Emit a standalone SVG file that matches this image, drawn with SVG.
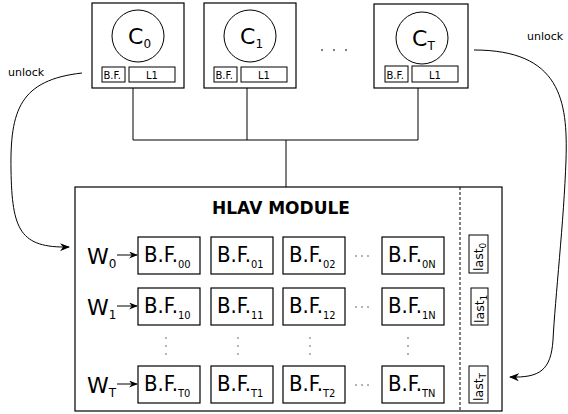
<svg xmlns="http://www.w3.org/2000/svg" width="568" height="414" viewBox="0 0 568 414">
  <style>
    text { font-family: "DejaVu Sans", "Liberation Sans", sans-serif; fill: #000; }
    .box { fill: #fff; stroke: #000; stroke-width: 1.2; }
    .thin { fill: #fff; stroke: #000; stroke-width: 1; }
    .wire { fill: none; stroke: #000; stroke-width: 1; }
    .curve { fill: none; stroke: #000; stroke-width: 1; marker-end: url(#head); }
    .core { font-size: 22px; }
    .coresub { font-size: 12px; }
    .small { font-size: 10px; }
    .bf { font-family: "DejaVu Sans Condensed", "DejaVu Sans", sans-serif; font-stretch: condensed; font-size: 22px; }
    .bfsub { font-size: 11px; }
    .w { font-size: 22px; }
    .wsub { font-size: 12px; }
    .last { font-size: 12.5px; }
    .lastsub { font-size: 9px; }
    .dot { fill: #555; }
  </style>
  <defs>
    <marker id="head" viewBox="0 0 10 8" refX="9" refY="4" markerWidth="10" markerHeight="8" markerUnits="userSpaceOnUse" orient="auto">
      <path d="M0,0 L10,4 L0,8 L3,4 Z" fill="#000"/>
    </marker>
    <marker id="wa" viewBox="0 0 10 8" refX="9" refY="4" markerWidth="9" markerHeight="7" markerUnits="userSpaceOnUse" orient="auto">
      <path d="M0,0 L10,4 L0,8 L3,4 Z" fill="#000"/>
    </marker>
  </defs>

  <!-- cores -->
  <g id="core0">
    <rect class="box" x="92" y="3" width="92" height="85"/>
    <circle class="wire" cx="138" cy="36" r="26"/>
    <text class="core" x="128" y="44">C<tspan class="coresub" dy="4">0</tspan></text>
    <rect class="thin" x="102" y="67" width="23" height="15"/>
    <text class="small" x="103.5" y="79">B.F.</text>
    <rect class="thin" x="129" y="67" width="46" height="15"/>
    <text class="small" x="152" y="79" text-anchor="middle">L1</text>
  </g>
  <g id="core1">
    <rect class="box" x="204" y="3" width="92" height="85"/>
    <circle class="wire" cx="250" cy="36" r="26"/>
    <text class="core" x="240" y="44">C<tspan class="coresub" dy="4">1</tspan></text>
    <rect class="thin" x="214" y="67" width="23" height="15"/>
    <text class="small" x="215.5" y="79">B.F.</text>
    <rect class="thin" x="241" y="67" width="46" height="15"/>
    <text class="small" x="264" y="79" text-anchor="middle">L1</text>
  </g>
  <g id="coreDots">
    <circle class="dot" cx="322" cy="50" r="1"/>
    <circle class="dot" cx="334" cy="50" r="1"/>
    <circle class="dot" cx="346" cy="50" r="1"/>
  </g>
  <g id="coreT">
    <rect class="box" x="374" y="4" width="94" height="84"/>
    <circle class="wire" cx="422" cy="38" r="26"/>
    <text class="core" x="412" y="46">C<tspan class="coresub" dy="4">T</tspan></text>
    <rect class="thin" x="385" y="66" width="23" height="16"/>
    <text class="small" x="386.5" y="78.5">B.F.</text>
    <rect class="thin" x="412" y="66" width="46" height="16"/>
    <text class="small" x="435" y="78.5" text-anchor="middle">L1</text>
  </g>

  <!-- module -->
  <g id="module">
    <rect class="box" x="75" y="187" width="427" height="224"/>
    <line x1="460" y1="187" x2="460" y2="411" stroke="#000" stroke-width="1" stroke-dasharray="3,2"/>
    <text x="281" y="214" font-size="17" font-weight="bold" text-anchor="middle">HLAV MODULE</text>
  </g>

  <!-- row 0 -->
  <g id="row0">
    <text class="w" x="87" y="264">W<tspan class="wsub" dy="4">0</tspan></text>
    <line class="wire" x1="117" y1="255" x2="137" y2="255" marker-end="url(#wa)"/>
    <rect class="box" x="138" y="237" width="62" height="37"/>
    <text class="bf" x="144" y="262">B.F.<tspan class="bfsub" dy="6">00</tspan></text>
    <rect class="box" x="211" y="237" width="62" height="37"/>
    <text class="bf" x="217" y="262">B.F.<tspan class="bfsub" dy="6">01</tspan></text>
    <rect class="box" x="283" y="237" width="62" height="37"/>
    <text class="bf" x="289" y="262">B.F.<tspan class="bfsub" dy="6">02</tspan></text>
    <circle class="dot" cx="356" cy="256" r="0.8"/>
    <circle class="dot" cx="362" cy="256" r="0.8"/>
    <circle class="dot" cx="368" cy="256" r="0.8"/>
    <rect class="box" x="382" y="237" width="62" height="37"/>
    <text class="bf" x="388" y="262">B.F.<tspan class="bfsub" dy="6">0N</tspan></text>
  </g>

  <!-- row 1 -->
  <g id="row1">
    <text class="w" x="87" y="315">W<tspan class="wsub" dy="4">1</tspan></text>
    <line class="wire" x1="117" y1="306" x2="137" y2="306" marker-end="url(#wa)"/>
    <rect class="box" x="138" y="288" width="62" height="37"/>
    <text class="bf" x="144" y="313">B.F.<tspan class="bfsub" dy="6">10</tspan></text>
    <rect class="box" x="211" y="288" width="62" height="37"/>
    <text class="bf" x="217" y="313">B.F.<tspan class="bfsub" dy="6">11</tspan></text>
    <rect class="box" x="283" y="288" width="62" height="37"/>
    <text class="bf" x="289" y="313">B.F.<tspan class="bfsub" dy="6">12</tspan></text>
    <circle class="dot" cx="356" cy="307" r="0.8"/>
    <circle class="dot" cx="362" cy="307" r="0.8"/>
    <circle class="dot" cx="368" cy="307" r="0.8"/>
    <rect class="box" x="382" y="288" width="62" height="37"/>
    <text class="bf" x="388" y="313">B.F.<tspan class="bfsub" dy="6">1N</tspan></text>
  </g>

  <!-- vertical ellipses -->
  <g id="vdots">
    <circle class="dot" cx="166" cy="338" r="0.8"/>
    <circle class="dot" cx="166" cy="346" r="0.8"/>
    <circle class="dot" cx="166" cy="354" r="0.8"/>
    <circle class="dot" cx="238" cy="338" r="0.8"/>
    <circle class="dot" cx="238" cy="346" r="0.8"/>
    <circle class="dot" cx="238" cy="354" r="0.8"/>
    <circle class="dot" cx="310" cy="338" r="0.8"/>
    <circle class="dot" cx="310" cy="346" r="0.8"/>
    <circle class="dot" cx="310" cy="354" r="0.8"/>
    <circle class="dot" cx="408" cy="338" r="0.8"/>
    <circle class="dot" cx="408" cy="346" r="0.8"/>
    <circle class="dot" cx="408" cy="354" r="0.8"/>
  </g>

  <!-- row T -->
  <g id="rowT">
    <text class="w" x="87" y="393">W<tspan class="wsub" dy="4">T</tspan></text>
    <line class="wire" x1="117" y1="384" x2="137" y2="384" marker-end="url(#wa)"/>
    <rect class="box" x="138" y="366" width="62" height="37"/>
    <text class="bf" x="144" y="391">B.F.<tspan class="bfsub" dy="6">T0</tspan></text>
    <rect class="box" x="211" y="366" width="62" height="37"/>
    <text class="bf" x="217" y="391">B.F.<tspan class="bfsub" dy="6">T1</tspan></text>
    <rect class="box" x="283" y="366" width="62" height="37"/>
    <text class="bf" x="289" y="391">B.F.<tspan class="bfsub" dy="6">T2</tspan></text>
    <circle class="dot" cx="356" cy="385" r="0.8"/>
    <circle class="dot" cx="362" cy="385" r="0.8"/>
    <circle class="dot" cx="368" cy="385" r="0.8"/>
    <rect class="box" x="382" y="366" width="62" height="37"/>
    <text class="bf" x="388" y="391">B.F.<tspan class="bfsub" dy="6">TN</tspan></text>
  </g>

  <!-- last-pointer registers -->
  <g id="last0">
    <rect class="thin" x="469" y="235" width="19" height="38"/>
    <text class="last" transform="translate(483,271) rotate(-90)">last<tspan class="lastsub" dy="3">0</tspan></text>
  </g>
  <g id="last1">
    <rect class="thin" x="471" y="288" width="17" height="37"/>
    <text class="last" transform="translate(484,323) rotate(-90)">last<tspan class="lastsub" dy="3">1</tspan></text>
  </g>
  <g id="lastT">
    <rect class="thin" x="469" y="366" width="19" height="37"/>
    <text class="last" transform="translate(483,401) rotate(-90)">last<tspan class="lastsub" dy="3">T</tspan></text>
  </g>

  <!-- connectors -->
  <g id="connectors">
    <path class="wire" d="M133,88 V140 M247,88 V140 M418,88 V140 M133,140 H418 M286,140 V187"/>
    <path class="curve" d="M82,73 C20,80 10,110 11,170 C12,230 20,248 69,247"/>
    <path class="curve" d="M474,50 C560,50 568,100 566,160 C564,220 555,300 553,340 C551,370 540,378 510,377"/>
    <text x="8" y="76" font-size="11">unlock</text>
    <text x="527" y="40" font-size="11">unlock</text>
  </g>
</svg>
